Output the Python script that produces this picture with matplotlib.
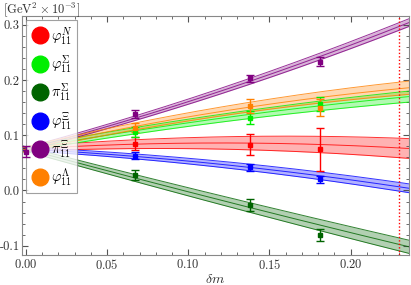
import matplotlib
matplotlib.use("Agg")
import matplotlib.pyplot as plt
import numpy as np
from matplotlib.ticker import MultipleLocator

plt.rcParams['mathtext.fontset'] = 'cm'
plt.rcParams['font.family'] = 'serif'
plt.rcParams['font.serif'] = ['cmr10']
plt.rcParams['axes.formatter.use_mathtext'] = True

# data
names = [r'$\varphi_{11}^{N}$', r'$\varphi_{11}^{\Sigma}$', r'$\pi_{11}^{\Sigma}$',
         r'$\varphi_{11}^{\Xi}$', r'$\pi_{11}^{\Xi}$', r'$\varphi_{11}^{\Lambda}$']
colors = ['#ff0000', '#00ee00', '#006400', '#0000ff', '#800080', '#ff8000']

dm = [0.067, 0.138, 0.181]
vals = [
    [0.085, 0.083, 0.075],      # phi N
    [0.106, 0.132, 0.157],      # phi Sigma
    [0.028, -0.027, -0.081],    # pi Sigma
    [0.063, 0.042, 0.020],      # phi Xi
    [0.139, 0.203, 0.233],      # pi Xi
    [0.114, 0.153, 0.150],      # phi Lambda
]
errs = [
    [0.012, 0.019, 0.039],
    [0.009, 0.011, 0.013],
    [0.009, 0.011, 0.011],
    [0.006, 0.006, 0.007],
    [0.007, 0.006, 0.008],
    [0.008, 0.013, 0.015],
]
x0_val, x0_err = 0.070, 0.010

# fit band centres at dm = 0, 0.118, 0.236 and half widths at 0 / 0.236
band_x = [0.0, 0.118, 0.236]
band_c = [
    [0.075, 0.086, 0.076],
    [0.075, 0.130, 0.170],
    [0.075, -0.016, -0.102],
    [0.075, 0.048, 0.004],
    [0.075, 0.178, 0.304],
    [0.075, 0.142, 0.186],
]
band_w = [
    [0.004, 0.018],
    [0.004, 0.010],
    [0.004, 0.012],
    [0.003, 0.008],
    [0.003, 0.007],
    [0.004, 0.012],
]

fig = plt.figure(figsize=(4.11, 2.85), dpi=100)
ax = fig.add_axes([0.0535, 0.105, 0.9415, 0.839])

xs = np.linspace(-0.003, 0.24, 200)
for i in range(len(names)):
    c = np.polyfit(band_x, band_c[i], 2)
    mid = np.polyval(c, xs)
    hw = np.interp(xs, [0.0, 0.236], band_w[i])
    ax.fill_between(xs, mid - hw, mid + hw, color=colors[i], alpha=0.3, lw=0)
    ax.plot(xs, mid, color=colors[i], lw=0.7, alpha=0.8)
    ax.plot(xs, mid - hw, color=colors[i], lw=0.7, alpha=0.8)
    ax.plot(xs, mid + hw, color=colors[i], lw=0.7, alpha=0.8)

for i in range(len(names)):
    ax.errorbar(dm, vals[i], yerr=errs[i], fmt='s', ms=3, color=colors[i],
                capsize=3, elinewidth=1, capthick=1, zorder=5)
    ax.plot([], [], 'o', ms=12, color=colors[i], label=names[i])

ax.errorbar([0.0], [x0_val], yerr=[x0_err], fmt='s', ms=3, color=colors[4],
            capsize=3, elinewidth=1, capthick=1, zorder=6)

ax.axvline(0.2296, color='#ff0000', ls=(0, (1, 1.5)), lw=1.0, zorder=4)

ax.set_xlim(-0.0025, 0.236)
ax.set_ylim(-0.117, 0.316)
ax.xaxis.set_major_locator(MultipleLocator(0.05))
ax.xaxis.set_minor_locator(MultipleLocator(0.01))
ax.yaxis.set_major_locator(MultipleLocator(0.1))
ax.yaxis.set_minor_locator(MultipleLocator(0.02))
ax.xaxis.set_major_formatter(plt.FuncFormatter(lambda v, p: f'${v:.2f}$'))
# plain text so the minus is the short cmr10 hyphen and fits the margin
ax.yaxis.set_major_formatter(plt.FuncFormatter(lambda v, p: f'{v:.1f}'))
ax.tick_params(which='both', direction='in', top=True, right=True,
               colors='#555555', labelcolor='#333333', labelsize=9, pad=2)
ax.tick_params(axis='y', which='major', labelsize=9, pad=1.5)
ax.tick_params(which='major', length=4)
ax.tick_params(which='minor', length=2)
for s in ax.spines.values():
    s.set_color('#888888')

ax.set_xlabel(r'$\delta m$', fontsize=10, color='#333333', labelpad=1)
fig.text(0.008, 0.965, r'$[\mathrm{GeV}^2\times 10^{-3}]$', fontsize=9,
         color='#333333', va='center')

leg = ax.legend(loc='upper left', fontsize=10.5, frameon=True, fancybox=False,
                edgecolor='#888888', handletextpad=0.1, borderpad=0.3,
                labelspacing=0.45, handlelength=1.3, borderaxespad=0.3)
leg.get_frame().set_linewidth(0.8)

fig.savefig('out.png', dpi=100)
